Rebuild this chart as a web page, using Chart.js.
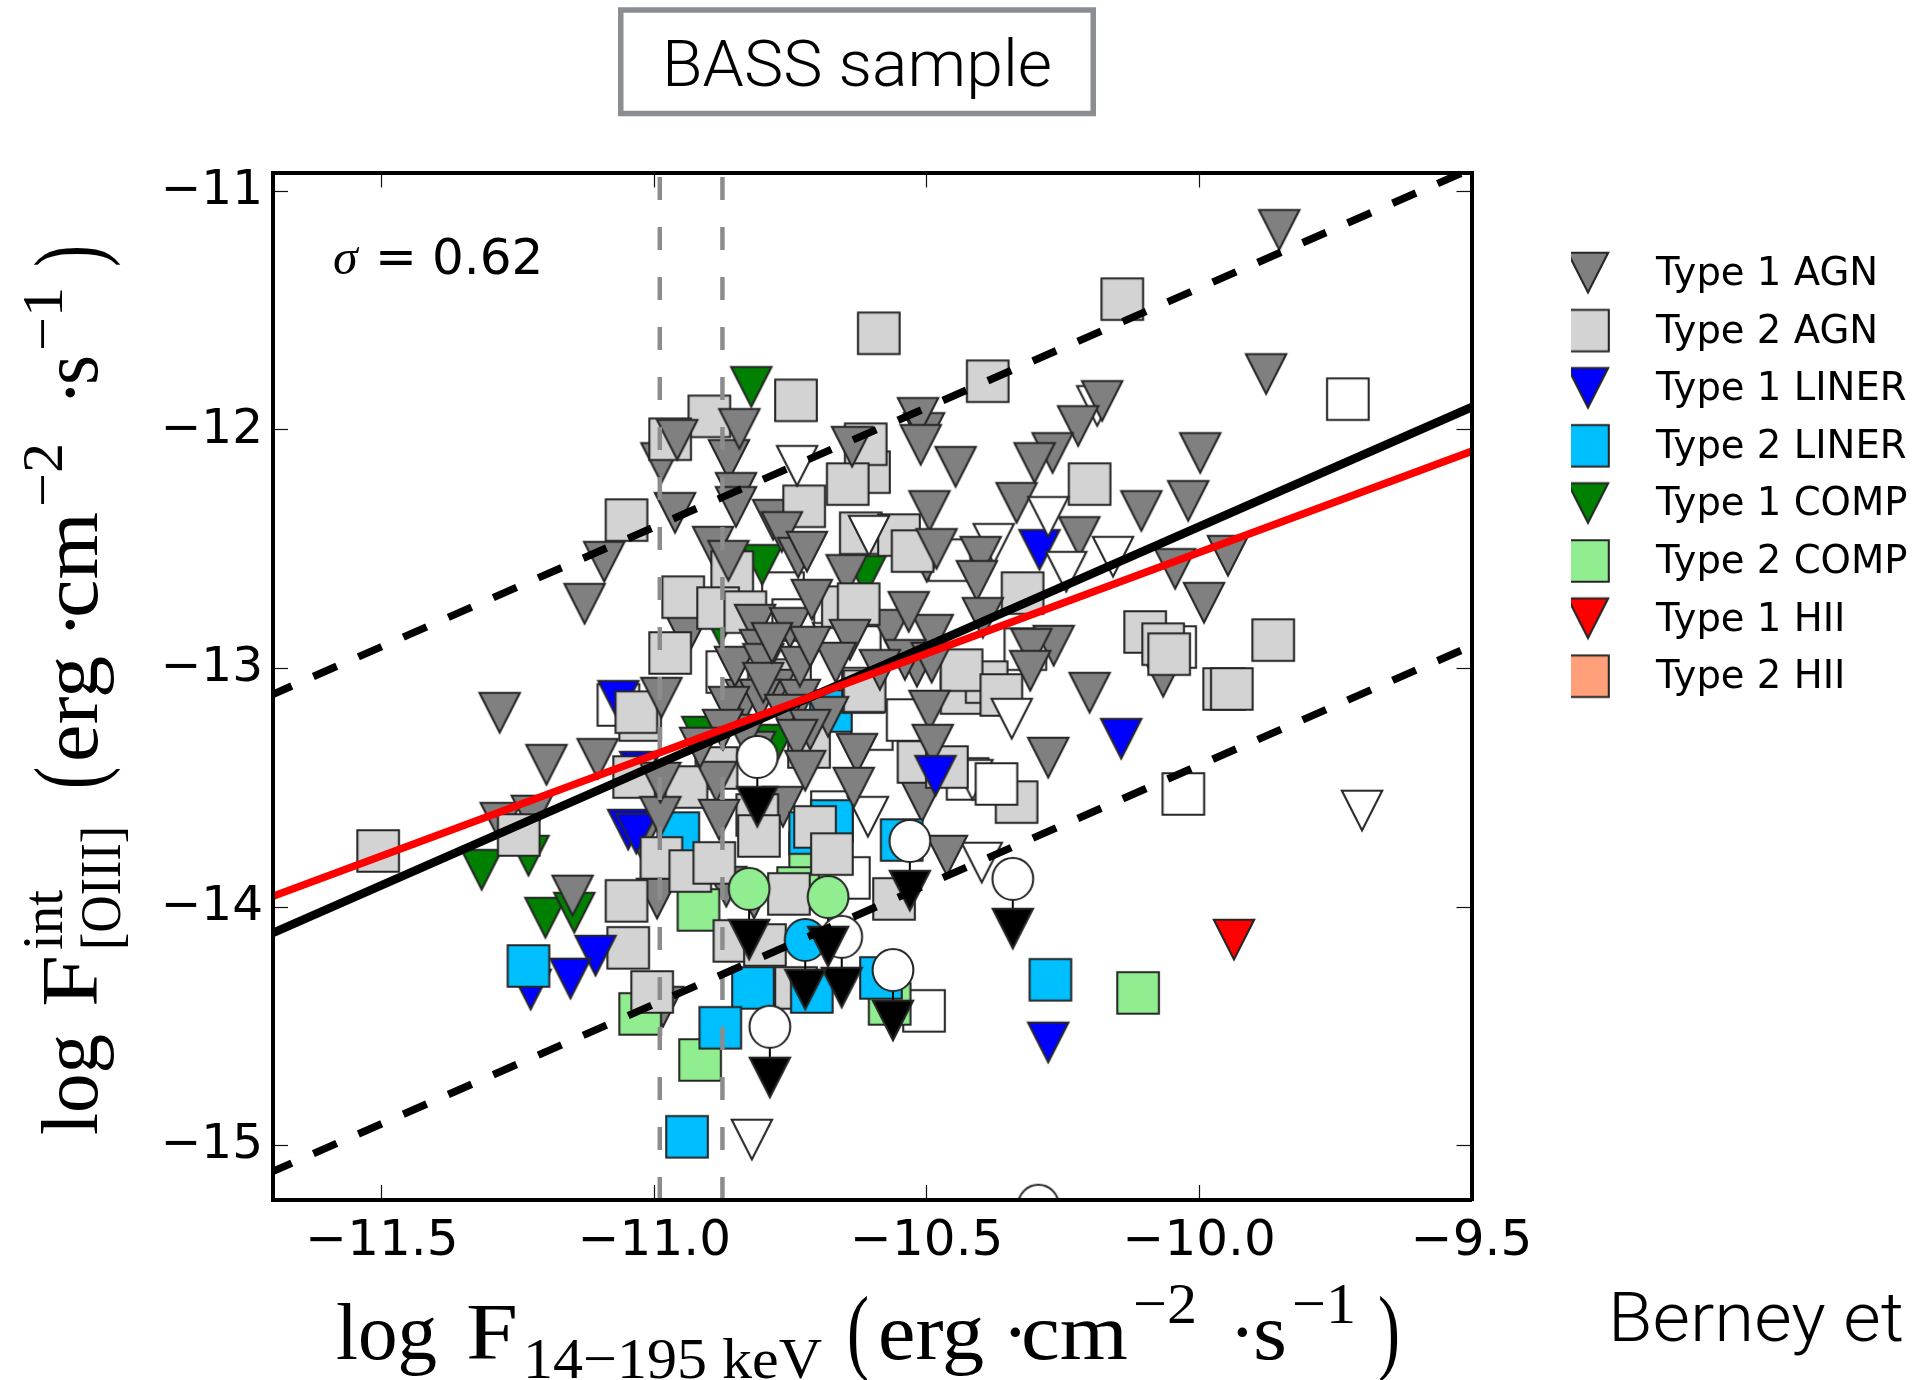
<!DOCTYPE html>
<html>
<head>
<meta charset="utf-8">
<title>BASS sample</title>
<script src="https://cdn.jsdelivr.net/npm/chart.js@4/dist/chart.umd.min.js"></script>
<style>
  html, body { margin: 0; background: #fff; overflow: hidden; }
  #wrap { position: relative; width: 1917px; height: 1380px; }
  #chart { position: absolute; left: 0; top: 0; filter: blur(0.5px); }
  #notes { position: absolute; left: 0; top: 0; filter: blur(0.4px); }
  .cm { font-family: "Liberation Serif", serif; }
  .dv { font-family: "DejaVu Sans", sans-serif; }
  .light { font-family: Roboto, sans-serif; font-weight: 300; }
</style>
</head>
<body>
<div id="wrap">
  <canvas id="chart" width="1917" height="1380"></canvas>
  <svg id="notes" width="1917" height="1380" xmlns="http://www.w3.org/2000/svg">
    <rect x="620.75" y="10" width="472.5" height="103.5" fill="none" stroke="#8a8d91" stroke-width="5.5"/>
    <text class="light" x="662" y="86" font-size="65" textLength="390" lengthAdjust="spacingAndGlyphs">BASS sample</text>
    <text class="light" x="1608" y="1341" font-size="68" textLength="296" lengthAdjust="spacingAndGlyphs">Berney et</text>

    <text class="cm" x="333" y="274" font-size="50" font-style="italic">σ</text>
    <text class="dv" x="375" y="274" font-size="50">=</text>
    <text class="dv" x="432" y="274" font-size="50">0.62</text>

    <g transform="translate(336,1359)" class="cm" font-size="80">
      <text x="0" textLength="101" lengthAdjust="spacingAndGlyphs">log</text>
      <text x="130" textLength="52" lengthAdjust="spacingAndGlyphs">F</text>
      <text x="187" y="19" font-size="58" textLength="299" lengthAdjust="spacingAndGlyphs">14−195 keV</text>
      <text x="511" y="3" font-size="96" textLength="22" lengthAdjust="spacingAndGlyphs">(</text>
      <text x="542" textLength="106" lengthAdjust="spacingAndGlyphs">erg</text>
      <text x="666">·</text>
      <text x="685" textLength="107" lengthAdjust="spacingAndGlyphs">cm</text>
      <text x="797" y="-36" font-size="58" textLength="64" lengthAdjust="spacingAndGlyphs">−2</text>
      <text x="893">·</text>
      <text x="917" textLength="34" lengthAdjust="spacingAndGlyphs">s</text>
      <text x="956" y="-36" font-size="58" textLength="64" lengthAdjust="spacingAndGlyphs">−1</text>
      <text x="1042" y="3" font-size="96" textLength="22" lengthAdjust="spacingAndGlyphs">)</text>
    </g>

    <g transform="translate(97,1135) rotate(-90)" class="cm" font-size="80">
      <text x="0" textLength="101" lengthAdjust="spacingAndGlyphs">log</text>
      <text x="128" textLength="52" lengthAdjust="spacingAndGlyphs">F</text>
      <text x="185" y="-35" font-size="58" textLength="60" lengthAdjust="spacingAndGlyphs">int</text>
      <text x="185" y="23" font-size="58" textLength="124" lengthAdjust="spacingAndGlyphs">[OIII]</text>
      <text x="346" y="3" font-size="96" textLength="22" lengthAdjust="spacingAndGlyphs">(</text>
      <text x="373" textLength="106" lengthAdjust="spacingAndGlyphs">erg</text>
      <text x="497">·</text>
      <text x="517" textLength="106" lengthAdjust="spacingAndGlyphs">cm</text>
      <text x="628" y="-35" font-size="58" textLength="64" lengthAdjust="spacingAndGlyphs">−2</text>
      <text x="729">·</text>
      <text x="750" textLength="30" lengthAdjust="spacingAndGlyphs">s</text>
      <text x="784" y="-35" font-size="58" textLength="64" lengthAdjust="spacingAndGlyphs">−1</text>
      <text x="868" y="3" font-size="96" textLength="22" lengthAdjust="spacingAndGlyphs">)</text>
    </g>
  </svg>
</div>

<script>
// axes
const xMin = -11.7, xMax = -9.5
const yMin = -15.228, yMax = -10.921
const xTicks = [-11.5, -11, -10.5, -10, -9.5]
const xTickLabels = ['−11.5', '−11.0', '−10.5', '−10.0', '−9.5']
const yTicks = [-15, -14, -13, -12, -11]
const yTickLabels = ['−15', '−14', '−13', '−12', '−11']

// fit lines
const lineX = [-11.7, -9.5]
const fitBlackY = [-14.108, -11.905]
const fitRedY = [-13.955, -12.09]
const upperDashY = [-13.108, -10.905]
const lowerDashY = [-15.108, -12.905]
const limitLinesX = [-10.99, -10.875]

// Type 1 AGN
const type1AgnX = [-10.815, -10.751, -10.806, -10.778, -10.733, -10.833, -10.833, -10.641, -10.54, -10.806, -9.853, -9.877, -10.178, -10.222, -10.269, -10.302, -9.998, -10.02, -10.106, -10.335, -10.22, -9.947, -10.044, -9.991, -10.267, -10.308, -10.401, -10.408, -10.397, -10.31, -10.201, -10.277, -10.463, -10.844, -10.958, -10.85, -10.85, -10.962, -11.092, -11.128, -10.637, -10.516, -10.511, -10.447, -10.495, -10.482, -10.766, -10.864, -10.736, -10.72, -10.711, -10.533, -10.491, -10.586, -10.852, -10.8, -10.733, -10.667, -10.8, -10.714, -10.784, -10.987, -10.495, -10.489, -10.681, -10.76, -10.863, -10.874, -11.104, -11.198, -11.284, -10.714, -10.738, -10.628, -10.634, -10.723, -10.886, -10.881, -10.989, -10.916, -10.989, -11.15]
const type1AgnY = [-12.818, -12.831, -12.923, -13.09, -13.132, -13.132, -13.279, -12.881, -12.965, -13.132, -11.163, -11.767, -11.88, -11.985, -12.098, -12.14, -12.098, -12.299, -12.341, -12.307, -12.45, -12.529, -12.584, -12.726, -12.906, -12.919, -12.533, -12.634, -12.789, -13.011, -13.103, -13.375, -13.786, -11.997, -12.043, -12.265, -12.324, -12.349, -12.554, -12.73, -12.072, -11.951, -12.064, -12.156, -12.341, -12.5, -12.429, -12.55, -12.537, -12.512, -12.713, -12.764, -12.977, -13.007, -12.994, -12.982, -12.994, -12.977, -13.061, -12.91, -12.894, -13.124, -13.178, -13.321, -13.204, -13.195, -13.162, -13.258, -13.38, -13.405, -13.187, -13.258, -13.3, -13.359, -13.501, -13.43, -13.476, -13.635, -13.623, -13.333, -13.48, -13.953]
// the ones that sit behind the squares
const type1AgnBackX = [-10.863, -10.782, -10.892, -10.647, -10.94, -10.568, -10.489, -10.5, -10.518, -10.505, -10.987, -10.066, -10.815, -10.509, -10.764, -11.282, -11.225, -11.024, -10.96, -10.995, -10.868, -10.817, -10.984]
const type1AgnBackY = [-12.127, -12.378, -12.491, -12.609, -12.868, -12.839, -12.86, -12.554, -12.994, -12.014, -12.14, -13.036, -13.35, -13.56, -13.581, -13.648, -13.618, -13.715, -13.694, -13.966, -13.916, -13.966, -14.419]

// Type 2 AGN
const type2AgnX = [-11.507, -10.141, -10.588, -10.388, -10.74, -10.899, -10.971, -11.051, -10.725, -10.606, -10.612, -10.645, -10.621, -10.551, -10.526, -10.947, -10.857, -10.883, -10.833, -10.654, -10.625, -10.971, -10.324, -10.436, -10.39, -10.436, -10.363, -10.617, -11.026, -11.033, -9.864, -10.099, -10.066, -10.055, -9.954, -9.94, -10.335, -10.201, -10.515, -10.463, -10.886, -10.811, -10.808, -10.705, -10.674, -10.614, -11.037, -10.941, -11.249, -10.987, -10.934, -10.89, -11.051, -11.048, -11.004, -10.753, -10.56, -10.853, -10.797, -10.716, -10.751]
const type2AgnY = [-13.765, -11.452, -11.595, -11.796, -11.876, -11.943, -12.039, -12.378, -12.32, -12.177, -12.06, -12.227, -12.433, -12.441, -12.508, -12.701, -12.596, -12.747, -12.764, -12.743, -12.73, -12.935, -12.684, -13.103, -13.057, -13.007, -13.111, -13.099, -13.216, -13.183, -12.881, -12.847, -12.898, -12.94, -13.086, -13.086, -13.56, -12.227, -13.392, -13.413, -13.417, -13.614, -13.702, -13.664, -13.778, -13.095, -13.455, -13.497, -13.698, -13.794, -13.849, -13.815, -13.974, -14.171, -14.356, -13.945, -13.966, -14.142, -14.159, -13.329, -13.049]
const type2AgnBackX = [-10.74]
const type2AgnBackY = [-14.339]

// Type 1 LINER
const type1LinerX = [-10.143, -10.293, -10.484, -11.108, -11.154, -10.277]
const type1LinerY = [-13.296, -12.504, -13.451, -14.205, -14.301, -14.569]
const type1LinerBackX = [-11.066, -11.026, -11.048, -11.033, -11.227]
const type1LinerBackY = [-13.137, -13.434, -13.677, -13.694, -14.347]

// Type 2 LINER
const type2LinerX = [-11.231, -10.819, -10.711, -10.879, -10.584, -10.273, -10.94, -10.674, -10.546, -10.956, -10.714, -10.676]
const type2LinerY = [-14.247, -14.339, -14.356, -14.506, -14.297, -14.305, -14.963, -13.639, -13.719, -13.69, -13.69, -13.178]

// Type 1 COMP
const type1CompX = [-10.822, -10.802, -10.612, -10.879, -10.912, -10.778, -11.317, -11.231, -11.2, -11.147]
const type1CompY = [-11.821, -12.567, -12.613, -12.822, -13.287, -13.321, -13.845, -13.786, -14.046, -14.025]

// Type 2 COMP
const type2CompX = [-10.919, -11.026, -10.916, -10.714, -10.736, -10.568, -10.112]
const type2CompY = [-14.012, -14.448, -14.641, -13.773, -13.92, -14.406, -14.36]

// Type 1 HII
const type1HiiX = [-9.936]
const type1HiiY = [-14.138]

// unclassified, open markers
const openTriBackX = [-10.377, -10.187, -10.158, -10.416, -10.399, -10.608, -10.672]
const openTriBackY = [-12.479, -11.901, -12.533, -13.468, -13.815, -13.623, -12.894]
const openTriX = [-10.738, -10.606, -10.277, -10.244, -10.344, -9.701, -10.821]
const openTriY = [-12.152, -12.445, -12.366, -12.596, -13.212, -13.597, -14.976]
const openSquareBackX = [-10.319, -10.044, -10.505, -10.643, -10.623, -10.866, -10.764, -10.745, -10.601, -10.535, -10.674, -11.066, -10.425, -10.458]
const openSquareBackY = [-12.919, -12.91, -14.435, -13.878, -12.91, -13.015, -12.684, -12.797, -13.254, -13.216, -13.602, -13.153, -13.463, -12.546]
const openSquareX = [-9.727, -10.029, -10.372]
const openSquareY = [-11.871, -13.526, -13.484]

// upper limits: circle and the arrow head under it
const limitOpenX = [-10.811, -10.531, -10.342, -10.656, -10.562, -10.788, -10.295]
const limitOpenY = [-13.371, -13.723, -13.882, -14.125, -14.264, -14.502, -15.252]
const limitOpenTipY = [-13.581, -13.933, -14.092, -14.339, -14.477, -14.716, -15.46]
const limitCompX = [-10.826, -10.681]
const limitCompY = [-13.924, -13.958]
const limitCompTipY = [-14.138, -14.167]
const limitLinerX = [-10.723]
const limitLinerY = [-14.138]
const limitLinerTipY = [-14.347]

const legendLabels = ['Type 1 AGN', 'Type 2 AGN', 'Type 1 LINER', 'Type 2 LINER', 'Type 1 COMP', 'Type 2 COMP', 'Type 1 HII', 'Type 2 HII']

const GRAY = '#808080', LIGHTGRAY = '#d3d3d3', BLUE = '#0000ff', SKY = '#00bfff'
const GREEN = '#008000', LIGHTGREEN = '#90ee90', RED = '#ff0000', SALMON = '#ffa07a'

function makeMarker(shape, fill, scale = 1.04) {
  const c = document.createElement('canvas')
  c.width = c.height = 54
  const g = c.getContext('2d')
  g.translate(27, 27)
  g.scale(scale, scale)
  g.lineWidth = 2
  g.lineJoin = 'miter'
  g.strokeStyle = '#262626'
  g.fillStyle = fill
  g.beginPath()
  if (shape === 'tri') {
    g.moveTo(-19.4, -19.5)
    g.lineTo(19.4, -19.5)
    g.lineTo(0, 18.8)
    g.closePath()
  } else if (shape === 'square') {
    g.rect(-20, -20, 40, 40)
  } else {
    g.ellipse(0, 0, 19.6, 20.2, 0, 0, Math.PI * 2)
  }
  g.fill()
  g.stroke()
  return c
}

function points(xs, ys) {
  return xs.map((x, i) => ({ x: x, y: ys[i] }))
}

function markers(xs, ys, shape, fill) {
  return {
    data: points(xs, ys),
    pointStyle: makeMarker(shape, fill),
    pointRadius: 22,
    pointHoverRadius: 22,
    showLine: false,
    clip: 0
  }
}

function line(xs, ys, color, width, dash, dashOffset) {
  return {
    data: points(xs, ys),
    showLine: true,
    borderColor: color,
    borderWidth: width,
    borderDash: dash || [],
    borderDashOffset: dashOffset || 0,
    pointRadius: 0,
    clip: 0
  }
}

// one broken line through all the stems of the upper limits
const stemX = [...limitOpenX, ...limitCompX, ...limitLinerX]
const stemTop = [...limitOpenY, ...limitCompY, ...limitLinerY]
const stemTip = [...limitOpenTipY, ...limitCompTipY, ...limitLinerTipY]
const stemData = stemX.flatMap((x, i) => [{ x: x, y: stemTop[i] }, { x: x, y: stemTip[i] }, { x: NaN, y: NaN }])

// back to front, reversed below because Chart.js draws the first dataset last
const layers = [
  markers(openSquareBackX, openSquareBackY, 'square', '#ffffff'),
  markers(openTriBackX, openTriBackY, 'tri', '#ffffff'),
  markers(type1CompX, type1CompY, 'tri', GREEN),
  markers(type2AgnBackX, type2AgnBackY, 'square', LIGHTGRAY),
  markers(type1AgnBackX, type1AgnBackY, 'tri', GRAY),
  markers(type1LinerBackX, type1LinerBackY, 'tri', BLUE),
  markers(type2CompX, type2CompY, 'square', LIGHTGREEN),
  markers(type2LinerX, type2LinerY, 'square', SKY),
  markers(type2AgnX, type2AgnY, 'square', LIGHTGRAY),
  markers(type1AgnX, type1AgnY, 'tri', GRAY),
  markers(type1LinerX, type1LinerY, 'tri', BLUE),
  markers(type1HiiX, type1HiiY, 'tri', RED),
  markers(openTriX, openTriY, 'tri', '#ffffff'),
  markers(openSquareX, openSquareY, 'square', '#ffffff'),
  { data: stemData, showLine: true, spanGaps: false, borderColor: '#000', borderWidth: 2, pointRadius: 0, clip: 0 },
  markers(limitOpenX, limitOpenY, 'circle', '#ffffff'),
  markers(limitCompX, limitCompY, 'circle', LIGHTGREEN),
  markers(limitLinerX, limitLinerY, 'circle', SKY),
  markers(limitOpenX, limitOpenTipY, 'tri', '#000000'),
  markers(limitCompX, limitCompTipY, 'tri', '#000000'),
  markers(limitLinerX, limitLinerTipY, 'tri', '#000000'),
  line([limitLinesX[0], limitLinesX[0]], [yMin, yMax], '#8c8c8c', 4.5, [23, 27]),
  line([limitLinesX[1], limitLinesX[1]], [yMin, yMax], '#8c8c8c', 4.5, [23, 27]),
  line(lineX, upperDashY, '#000', 7.5, [25.5, 23.6], 5),
  line(lineX, lowerDashY, '#000', 7.5, [25.5, 23.6], 5),
  line(lineX, fitBlackY, '#000', 8.5),
  line(lineX, fitRedY, '#ff0000', 7.5)
]

const legendMarkers = [
  makeMarker('tri', GRAY), makeMarker('square', LIGHTGRAY),
  makeMarker('tri', BLUE), makeMarker('square', SKY),
  makeMarker('tri', GREEN), makeMarker('square', LIGHTGREEN),
  makeMarker('tri', RED), makeMarker('square', SALMON)
]

const sideLegend = {
  id: 'sideLegend',
  afterDraw(chart) {
    const ctx = chart.ctx
    ctx.save()
    ctx.font = '38.6px "DejaVu Sans"'
    ctx.fillStyle = '#000'
    ctx.textBaseline = 'alphabetic'
    legendLabels.forEach((label, i) => {
      const y = 273 + i * 57.6
      ctx.save()
      ctx.beginPath()
      ctx.rect(1571, y - 30, 60, 60)
      ctx.clip()
      ctx.drawImage(legendMarkers[i], 1588 - 27, y - 27)
      ctx.restore()
      ctx.fillText(label, 1656, y + 12)
    })
    ctx.restore()
  }
}

const axisGrid = { drawOnChartArea: false, tickLength: -15, tickWidth: 1.2, tickColor: '#111', z: 1 }
const axisBorder = { color: '#000', width: 4, z: 1 }

new Chart(document.getElementById('chart'), {
  type: 'scatter',
  data: { datasets: layers.reverse() },
  plugins: [sideLegend],
  options: {
    responsive: false,
    animation: false,
    events: [],
    layout: { padding: { top: 172.5, right: 445.5, left: 0, bottom: 0 } },
    plugins: { legend: { display: false }, tooltip: { enabled: false } },
    scales: {
      x: {
        type: 'linear', position: 'bottom', min: xMin, max: xMax,
        afterBuildTicks: s => { s.ticks = xTicks.map(v => ({ value: v })) },
        afterFit: s => { s.height = 180 },
        grid: axisGrid,
        border: axisBorder,
        ticks: {
          font: { family: '"DejaVu Sans"', size: 50 }, color: '#000', padding: 27, maxRotation: 0, autoSkip: false,
          callback: (v, i) => xTickLabels[i]
        }
      },
      y: {
        type: 'linear', position: 'left', min: yMin, max: yMax,
        afterBuildTicks: s => { s.ticks = yTicks.map(v => ({ value: v })) },
        afterFit: s => { s.width = 273 },
        grid: axisGrid,
        border: axisBorder,
        ticks: {
          font: { family: '"DejaVu Sans"', size: 48.5 }, color: '#000', padding: 25, autoSkip: false,
          callback: (v, i) => yTickLabels[i]
        }
      },
      xTop: {
        type: 'linear', position: 'top', min: xMin, max: xMax,
        afterBuildTicks: s => { s.ticks = xTicks.map(v => ({ value: v })) },
        afterFit: s => { s.height = 0 },
        grid: axisGrid,
        border: axisBorder,
        ticks: { display: false }
      },
      yRight: {
        type: 'linear', position: 'right', min: yMin, max: yMax,
        afterBuildTicks: s => { s.ticks = yTicks.map(v => ({ value: v })) },
        afterFit: s => { s.width = 0 },
        grid: axisGrid,
        border: axisBorder,
        ticks: { display: false }
      }
    }
  }
})
</script>
</body>
</html>
